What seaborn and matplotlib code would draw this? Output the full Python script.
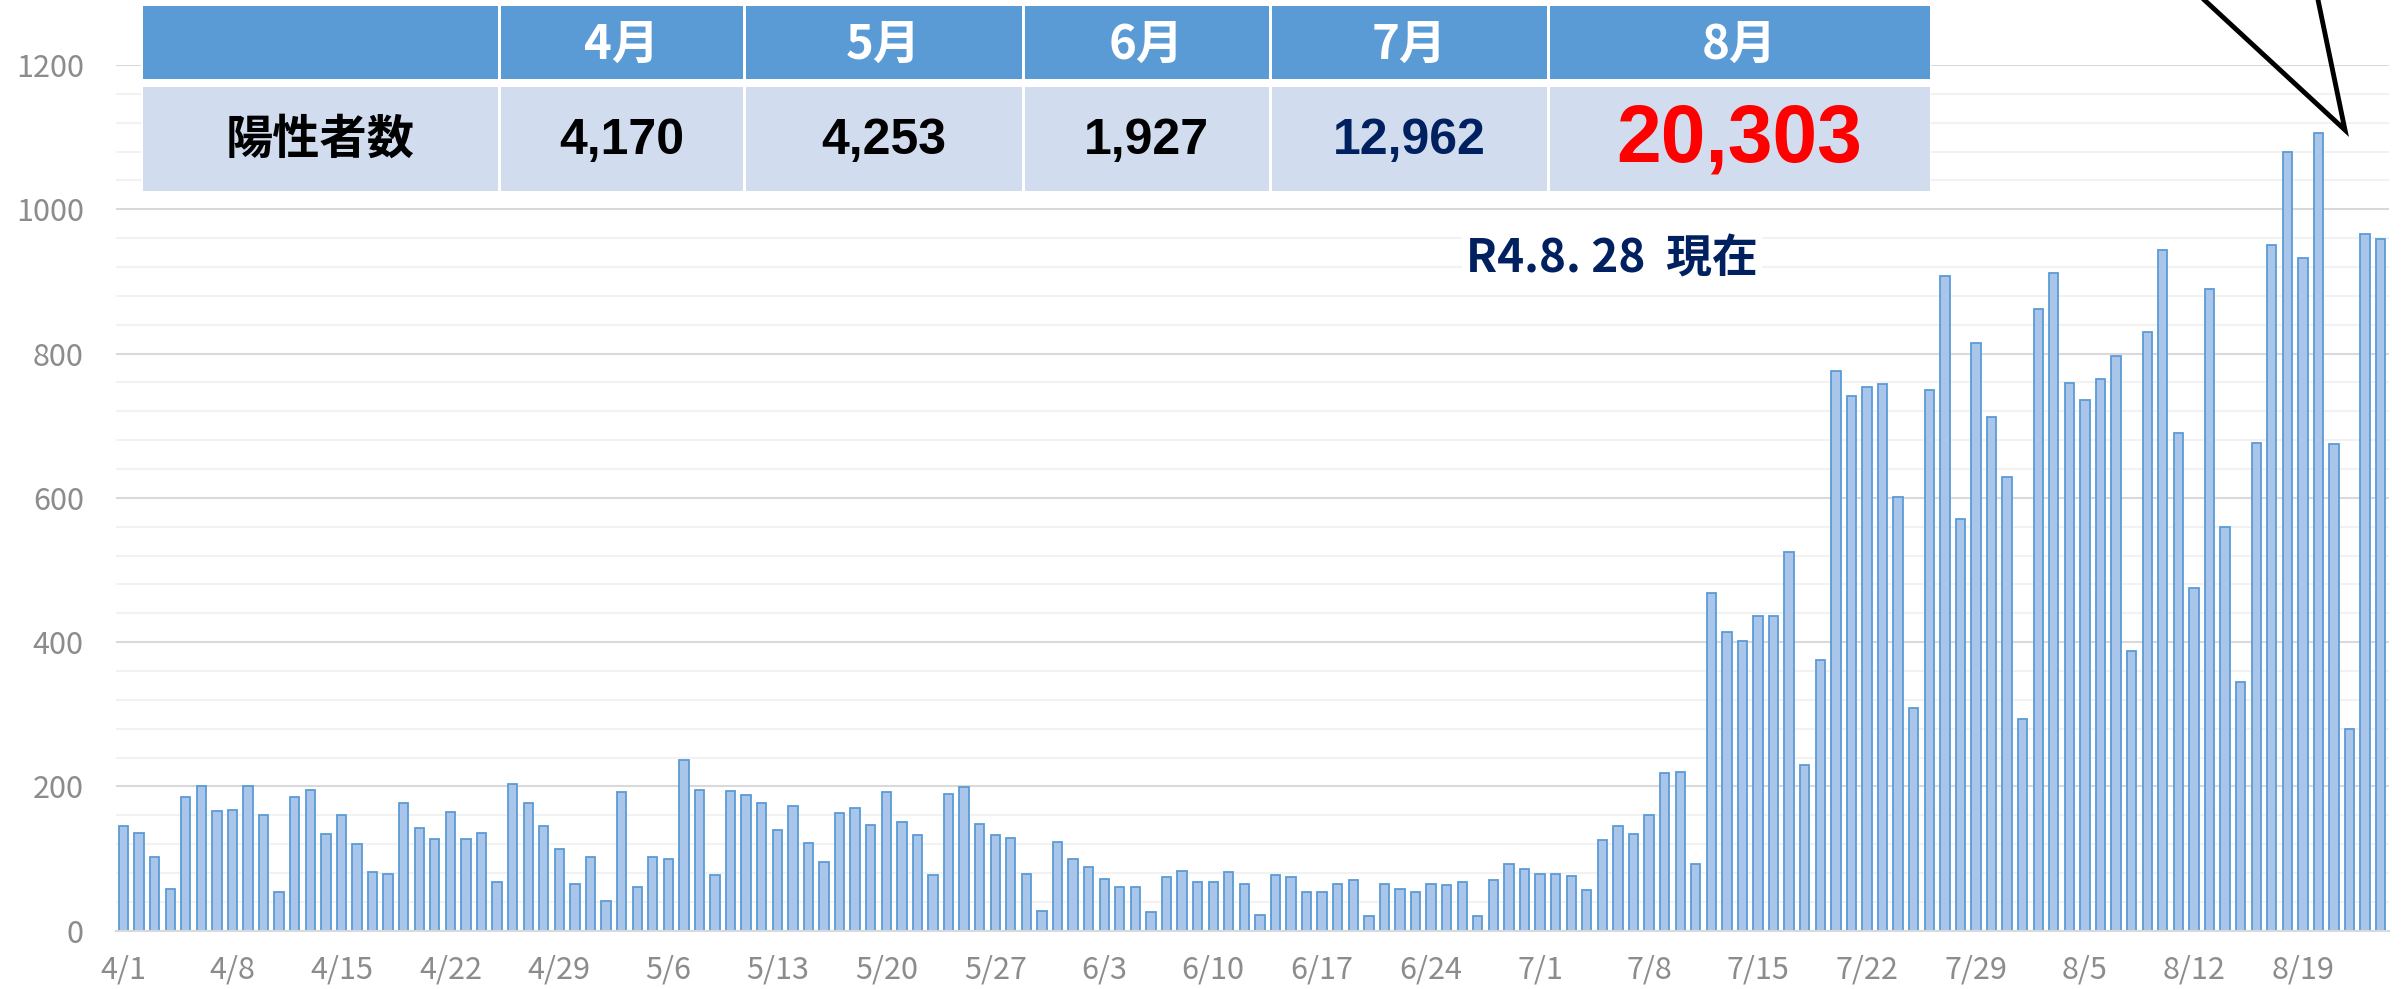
import seaborn as sns
import matplotlib.pyplot as plt
import pandas as pd
from matplotlib.patches import Rectangle
from matplotlib.lines import Line2D
from matplotlib.ticker import MultipleLocator, FixedLocator

# 日別の陽性者数（4/1〜8/24）
apr = [145, 135, 102, 58, 186, 200, 166, 168, 200, 161, 54, 185, 195, 134, 161,
       120, 82, 79, 177, 143, 127, 165, 127, 136, 68, 204, 177, 145, 113, 65]
may = [102, 41, 192, 60, 102, 100, 236, 195, 77, 193, 188, 177, 140, 173, 122, 95,
       163, 170, 147, 192, 150, 133, 77, 190, 199, 148, 133, 129, 79, 27, 123]
jun = [100, 88, 72, 61, 60, 26, 74, 83, 67, 68, 81, 65, 22, 77, 74, 54, 54, 65,
       70, 20, 65, 58, 54, 65, 63, 67, 20, 70, 93, 85]
jul = [79, 79, 76, 56, 126, 145, 134, 160, 218, 220, 92, 468, 414, 402, 436, 436,
       525, 229, 375, 776, 741, 753, 758, 601, 309, 749, 907, 570, 815, 712, 629]
aug = [293, 862, 912, 759, 735, 765, 797, 388, 830, 944, 690, 475, 890, 560, 345,
       676, 951, 1080, 933, 1106, 675, 279, 966, 959]

# 月別集計表
months = ['4月', '5月', '6月', '7月', '8月']
month_totals = [4170, 4253, 1927, 12962, 20303]
row_label = '陽性者数'
as_of = 'R4.8. 28  現在'

counts = apr + may + jun + jul + aug
dates = pd.date_range('2022-04-01', periods=len(counts))
labels = [f'{d.month}/{d.day}' for d in dates]
df = pd.DataFrame({'date': labels, 'count': counts})

sns.set_style('white')
plt.rcParams['font.family'] = ['Noto Sans CJK JP', 'DejaVu Sans']

W, H = 2407, 989
fig = plt.figure(figsize=(W / 100, H / 100), dpi=100)
ax = fig.add_axes([115.7 / W, (H - 930.7) / H, (2388.5 - 115.7) / W, 865.7 / H])

sns.barplot(data=df, x='date', y='count', color='#A9C6EA', saturation=1,
            width=0.6, edgecolor='#5B9BD5', linewidth=1.3, ax=ax)

n = len(counts)
ax.set_xlim(-0.5, n - 0.5)
ax.set_ylim(0, 1200)
ax.set_xlabel('')
ax.set_ylabel('')

pos = list(range(0, n, 7))
ax.set_xticks(pos)
ax.set_xticklabels([labels[i] for i in pos])
ax.xaxis.set_minor_locator(FixedLocator([p - 0.5 for p in pos]))
ax.tick_params(axis='x', which='major', length=0, pad=17, labelsize=22, labelcolor='#8C8C8C')
ax.tick_params(axis='x', which='minor', length=6.5, width=1.2, color='#D9D9D9', direction='out')

ax.yaxis.set_major_locator(MultipleLocator(200))
ax.yaxis.set_minor_locator(MultipleLocator(40))
ax.tick_params(axis='y', which='both', length=0, pad=23, labelsize=22, labelcolor='#8C8C8C')
ax.yaxis.grid(True, which='major', color='#D9D9D9', linewidth=1.5)
ax.yaxis.grid(True, which='minor', color='#F2F2F2', linewidth=1.5)
ax.set_axisbelow(True)
for s in ['left', 'right', 'top']:
    ax.spines[s].set_visible(False)
ax.spines['bottom'].set_color('#D9D9D9')
ax.spines['bottom'].set_linewidth(1.5)

# 上に重ねる表と注記（ピクセル座標）
ov = fig.add_axes([0, 0, 1, 1], zorder=5)
ov.set_xlim(0, W)
ov.set_ylim(H, 0)
ov.axis('off')
ov.patch.set_alpha(0)

bounds = [141, 499, 744, 1023, 1270, 1548, 1931]
ov.add_patch(Rectangle((bounds[0], 3), bounds[-1] - bounds[0], 191, facecolor='white', edgecolor='none'))
g = 1.5
for i in range(6):
    x0, x1 = bounds[i] + g, bounds[i + 1] - g
    ov.add_patch(Rectangle((x0, 6), x1 - x0, 73, facecolor='#5B9BD5', edgecolor='none'))
    ov.add_patch(Rectangle((x0, 87), x1 - x0, 104, facecolor='#D1DDEF', edgecolor='none'))

cx = [(bounds[i] + bounds[i + 1]) / 2 for i in range(6)]
for i, m in enumerate(months):
    ov.text(cx[i + 1], 45, m, ha='center', va='center', color='white',
            fontsize=34, fontweight='bold')
ov.text(cx[0], 140, row_label, ha='center', va='center', color='black',
        fontsize=34, fontweight='bold')
num_colors = ['black', 'black', 'black', '#002060', '#FF0000']
num_sizes = [36, 36, 36, 36, 58]
for i, v in enumerate(month_totals):
    ov.text(cx[i + 1], 141, f'{v:,}', ha='center', va='center', color=num_colors[i],
            fontsize=num_sizes[i], fontweight='bold',
            family=['Liberation Sans', 'DejaVu Sans'])

ov.text(1612, 259, as_of, ha='center', va='center', color='#002060', fontsize=33,
        fontweight='bold', bbox=dict(facecolor='white', edgecolor='none', pad=3))

ov.add_line(Line2D([2199, 2345, 2317], [-5, 130, -5], color='black', linewidth=3.5,
                   solid_joinstyle='miter'))

fig.savefig('out.png', dpi=100)
